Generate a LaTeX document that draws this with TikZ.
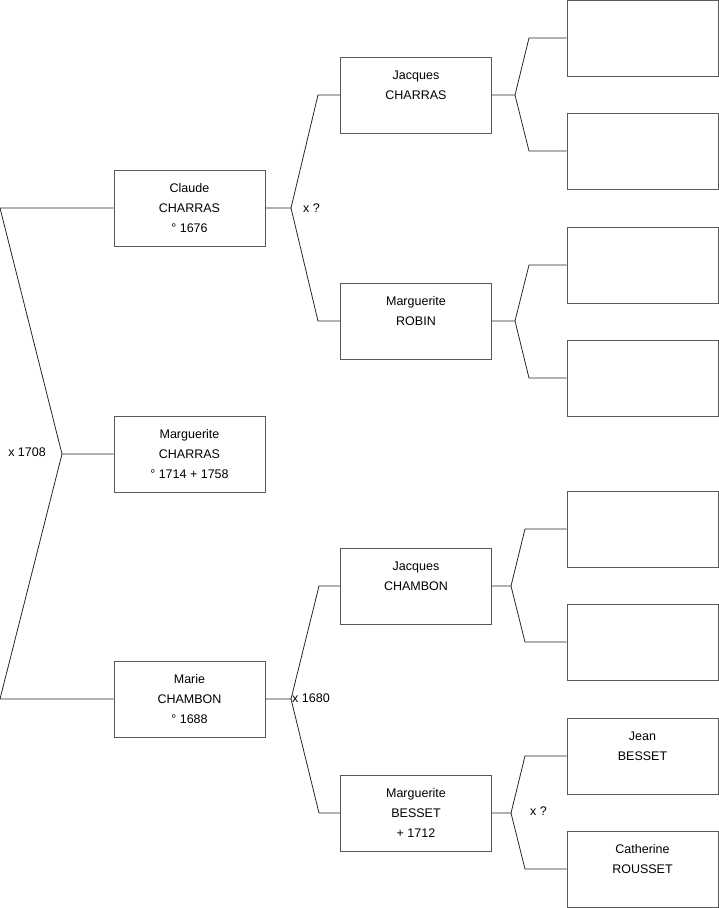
\documentclass[tikz,border=0pt]{standalone}
\usepackage{fontspec}
\setmainfont{Liberation Sans}
\usepackage{tikz}

\tikzset{
  person/.style={draw=black!65, line width=0.9pt, fill=white, minimum width=151pt,
    minimum height=76pt, align=center, inner sep=0pt,
    font=\fontsize{12.5}{20}\selectfont},
  link/.style={black!85, line width=0.8pt},
  union/.style={font=\fontsize{12.5}{15}\selectfont, inner sep=1pt},
}

\begin{document}
\begin{tikzpicture}[x=1pt, y=-1pt]
\useasboundingbox (0,0) rectangle (719,908);

%% ===================== Generation 1 (child + parents) =====================
\node[person] (claude)  at (189.5,208) {Claude\\CHARRAS\\° 1676};
\node[person] (child)   at (189.5,454) {Marguerite\\CHARRAS\\° 1714 + 1758};
\node[person] (marie)   at (189.5,699) {Marie\\CHAMBON\\° 1688};

%% ===================== Generation 2 (grandparents) =====================
\node[person] (jcharras) at (416,95)  {Jacques\\CHARRAS\\~};
\node[person] (mrobin)   at (416,321) {Marguerite\\ROBIN\\~};
\node[person] (jchambon) at (416,586) {Jacques\\CHAMBON\\~};
\node[person] (mbesset)  at (416,813) {Marguerite\\BESSET\\+ 1712};

%% ===================== Generation 3 (great-grandparents) =====================
\node[person] (g1) at (642.5,38)  {};
\node[person] (g2) at (642.5,151) {};
\node[person] (g3) at (642.5,265) {};
\node[person] (g4) at (642.5,378) {};
\node[person] (g5) at (642.5,529) {};
\node[person] (g6) at (642.5,642) {};
\node[person] (g7) at (642.5,756) {Jean\\BESSET\\~};
\node[person] (g8) at (642.5,869) {Catherine\\ROUSSET\\~};

% fork points
\coordinate (r0) at (62,454);
\coordinate (r1) at (0,208);
\coordinate (r2) at (0,699);

\coordinate (a0) at (291,208);
\coordinate (a1) at (318,95);
\coordinate (a2) at (318,321);

\coordinate (b0) at (291,699);
\coordinate (b1) at (319,586);
\coordinate (b2) at (319,813);

\coordinate (c0) at (515,95);
\coordinate (c1) at (529,38);
\coordinate (c2) at (529,151);

\coordinate (d0) at (515,321);
\coordinate (d1) at (529,265);
\coordinate (d2) at (529,378);

\coordinate (e0) at (511,586);
\coordinate (e1) at (525,529);
\coordinate (e2) at (525,642);

\coordinate (f0) at (511,813);
\coordinate (f1) at (525,756);
\coordinate (f2) at (525,869);

% connectors
\draw[link] (child.west) -- (r0) -- (r1) -- (claude.west);
\draw[link] (r0) -- (r2) -- (marie.west);

\draw[link] (claude.east) -- (a0) -- (a1) -- (jcharras.west);
\draw[link] (a0) -- (a2) -- (mrobin.west);

\draw[link] (marie.east) -- (b0) -- (b1) -- (jchambon.west);
\draw[link] (b0) -- (b2) -- (mbesset.west);

\draw[link] (jcharras.east) -- (c0) -- (c1) -- (g1.west);
\draw[link] (c0) -- (c2) -- (g2.west);

\draw[link] (mrobin.east) -- (d0) -- (d1) -- (g3.west);
\draw[link] (d0) -- (d2) -- (g4.west);

\draw[link] (jchambon.east) -- (e0) -- (e1) -- (g5.west);
\draw[link] (e0) -- (e2) -- (g6.west);

\draw[link] (mbesset.east) -- (f0) -- (f1) -- (g7.west);
\draw[link] (f0) -- (f2) -- (g8.west);

% marriage labels
\node[union, anchor=east] (u0) at (47,452) {x 1708};
\node[union, anchor=west] (u1) at (302,208) {x ?};
\node[union, anchor=west] (u2) at (291,698) {x 1680};
\node[union, anchor=west] (u3) at (529,811) {x ?};

\end{tikzpicture}
\end{document}
